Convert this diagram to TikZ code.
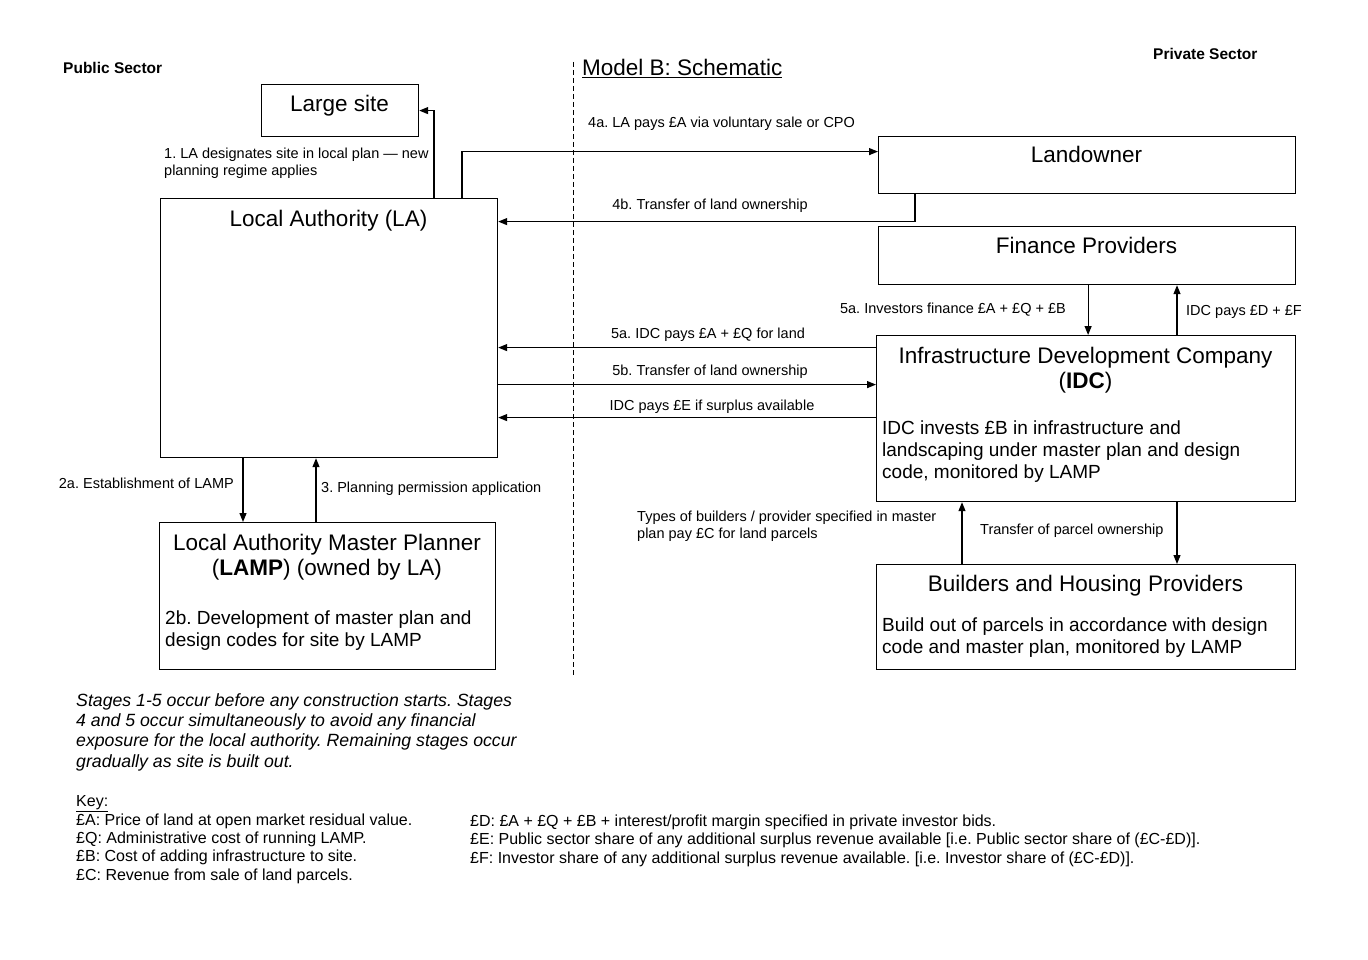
\documentclass[tikz,border=0pt]{standalone}
\usepackage{fontspec}
\setmainfont{Liberation Sans}
\usetikzlibrary{arrows.meta,calc}
\begin{document}
\frenchspacing
\begin{tikzpicture}[x=1pt,y=-1pt,
  box/.style={draw,line width=1.2pt,inner sep=0,anchor=north west},
  ttl/.style={font=\fontsize{22.5}{25}\selectfont,anchor=base,inner sep=0,align=center},
  body/.style={font=\fontsize{19}{22}\selectfont,anchor=base west,inner sep=0,align=left},
  lab/.style={font=\fontsize{14.5}{17}\selectfont,inner sep=0,align=left},
  hdr/.style={font=\fontsize{15.5}{18}\selectfont\bfseries,anchor=base west,inner sep=0},
  ital/.style={font=\fontsize{17.7}{20.3}\selectfont\itshape,anchor=base west,inner sep=0,align=left},
  keyl/.style={font=\fontsize{16}{18.3}\selectfont,anchor=base west,inner sep=0,align=left},
  arr/.style={line width=1.2pt,-{Triangle[length=9pt,width=7pt]}},
  divider/.style={line width=1pt,dash pattern=on 5pt off 3pt}]
\useasboundingbox[fill=white] (0,0) rectangle (1368,960);

% headers
\node[hdr] (pub) at (63,73.5) {Public Sector};
\node[hdr] (priv) at (1153,59.5) {Private Sector};
\node[ttl,anchor=base west] (model) at (582,76) {\underline{Model B: Schematic}};
\coordinate (dtop) at (573,62);
\coordinate (dbot) at (573,677);
\draw[divider] (dtop) -- (dbot);

% boxes
\node[box,minimum width=157,minimum height=52] (site) at (261,84) {};
\node[box,minimum width=337,minimum height=259] (la) at (160,198) {};
\node[box,minimum width=417,minimum height=57] (land) at (878,136) {};
\node[box,minimum width=417,minimum height=58] (fp) at (878,226) {};
\node[box,minimum width=419,minimum height=166] (idc) at (876,335) {};
\node[box,minimum width=336,minimum height=147] (lamp) at (159,522) {};
\node[box,minimum width=419,minimum height=105] (bhp) at (876,564) {};

% box texts (multi-line nodes are placed by the baseline of their last line)
\node[ttl] (sitet) at (339.5,112) {Large site};
\node[ttl] (lat) at (328.5,227) {Local Authority (LA)};
\node[ttl] (landt) at (1086.5,163) {Landowner};
\node[ttl] (fpt) at (1086.5,253) {Finance Providers};
\node[ttl] (idct) at (1085.5,388) {Infrastructure Development Company\\(\textbf{IDC})};
\node[body] (idcb) at (882,478) {IDC invests £B in infrastructure and\\landscaping under master plan and design\\code, monitored by LAMP};
\node[ttl] (lampt) at (327,575) {Local Authority Master Planner\\(\textbf{LAMP}) (owned by LA)};
\node[body] (lampb) at (165,646) {2b. Development of master plan and\\design codes for site by LAMP};
\node[ttl] (bhpt) at (1085.5,591) {Builders and Housing Providers};
\node[body] (bhpb) at (882,653) {Build out of parcels in accordance with design\\code and master plan, monitored by LAMP};

% connectors
\draw[arr] ([xshift=274pt]la.north west) |- (site.east);
\node[lab,anchor=base west] (l1) at (164,176) {1. LA designates site in local plan — new\\planning regime applies};

\draw[arr] ([xshift=302pt]la.north west) |- ([yshift=13.5pt]land.west);
\node[lab,anchor=base west] (l4a) at (588,128) {4a. LA pays £A via voluntary sale or CPO};

\draw[arr] ([xshift=37pt]land.south west) |- ([yshift=106.5pt]la.east);
\node[lab,anchor=base] (l4b) at (710,210) {4b. Transfer of land ownership};

\draw[arr] ([xshift=1pt]fp.south) -- ([xshift=1pt]fp.south |- idc.north);
\node[lab,anchor=base east] (l5i) at (1066,313) {5a. Investors finance £A + £Q + £B};
\draw[arr] ([xshift=301pt]idc.north west) -- ([xshift=301pt]idc.north west |- fp.south);
\node[lab,anchor=base west] (lidcp) at (1186,315) {IDC pays £D + £F};

\draw[arr] ([yshift=71pt]idc.west) -- ([yshift=71pt]idc.west -| la.east);
\node[lab,anchor=base] (l5a) at (708,338) {5a. IDC pays £A + £Q for land};
\draw[arr] ([yshift=34pt]idc.west -| la.east) -- ([yshift=34pt]idc.west);
\node[lab,anchor=base] (l5b) at (710,375) {5b. Transfer of land ownership};
\draw[arr] ([yshift=1pt]idc.west) -- ([yshift=1pt]idc.west -| la.east);
\node[lab,anchor=base] (lE) at (712,410) {IDC pays £E if surplus available};

\draw[arr] ([xshift=83pt]la.south west) -- ([xshift=83pt]la.south west |- lamp.north);
\node[lab,anchor=base east] (l2a) at (234,488) {2a. Establishment of LAMP};
\draw[arr] ([xshift=157pt]lamp.north west) -- ([xshift=157pt]lamp.north west |- la.south);
\node[lab,anchor=base west] (l3) at (321,492) {3. Planning permission application};

\draw[arr] ([xshift=86pt]bhp.north west) -- ([xshift=86pt]bhp.north west |- idc.south);
\node[lab,anchor=base west] (lC) at (637,538) {Types of builders / provider specified in master\\plan pay £C for land parcels};
\draw[arr] ([xshift=301pt]idc.south west) -- ([xshift=301pt]idc.south west |- bhp.north);
\node[lab,anchor=base west] (lpar) at (980,534) {Transfer of parcel ownership};

% notes
\node[ital] (notes) at (76,767) {Stages 1-5 occur before any construction starts. Stages\\4 and 5 occur simultaneously to avoid any financial\\exposure for the local authority. Remaining stages occur\\gradually as site is built out.};
\node[keyl] (keyh) at (76,880) {\underline{Key:}\\£A: Price of land at open market residual value.\\£Q: Administrative cost of running LAMP.\\£B: Cost of adding infrastructure to site.\\£C: Revenue from sale of land parcels.};
\node[keyl] (keyr) at (470,863) {£D: £A + £Q + £B + interest/profit margin specified in private investor bids.\\£E: Public sector share of any additional surplus revenue available [i.e. Public sector share of (£C-£D)].\\£F: Investor share of any additional surplus revenue available. [i.e. Investor share of (£C-£D)].};
\end{tikzpicture}
\end{document}
